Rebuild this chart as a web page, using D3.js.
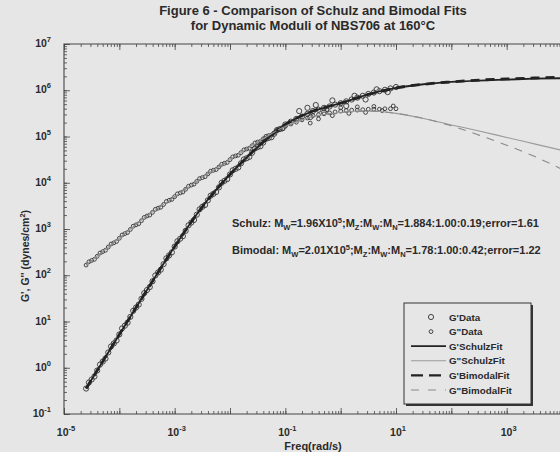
<!DOCTYPE html>
<html>
<head>
<meta charset="utf-8">
<script src="https://cdn.jsdelivr.net/npm/d3@7"></script>
<style>
  body { margin: 0; background: #e6e6e6; }
  svg { display: block; font-family: "Liberation Sans", Arial, sans-serif; font-weight: bold; }
</style>
</head>
<body>
<script>
// measured data (freq in rad/s, moduli in dynes/cm2)
var freq = [2.51e-5, 3.16e-5, 3.98e-5, 5.01e-5, 6.31e-5, 7.94e-5,
  1.00e-4, 1.26e-4, 1.58e-4, 2.00e-4, 2.51e-4, 3.16e-4, 3.98e-4, 5.01e-4, 6.31e-4, 7.94e-4,
  1.00e-3, 1.26e-3, 1.58e-3, 2.00e-3, 2.51e-3, 3.16e-3, 3.98e-3, 5.01e-3, 6.31e-3, 7.94e-3,
  0.0100, 0.0126, 0.0158, 0.0200, 0.0251, 0.0316, 0.0398, 0.0501, 0.0631, 0.0794,
  0.100, 0.126, 0.158, 0.200, 0.251, 0.316, 0.398, 0.501, 0.631, 0.794,
  1.00, 1.26, 1.58, 2.00, 2.51, 3.16, 3.98, 5.01, 6.31, 7.94, 10.0];

var gpData = [0.355, 0.556, 0.871, 1.36, 2.14, 3.35,
  5.25, 8.13, 12.6, 20.0, 30.9, 47.9, 74.1, 115, 174, 269,
  417, 617, 912, 1380, 2040, 3020, 4170, 5750, 7940, 11000,
  15100, 20000, 26300, 33900, 44700, 58900, 74100, 93300, 115000, 145000,
  182000, 209000, 240000, 269000, 309000, 355000, 380000, 417000, 447000, 490000,
  525000, 575000, 631000, 692000, 759000, 832000, 891000, 955000, 1023000, 1096000, 1175000];

var gppData = [166, 209, 257, 324, 407, 501,
  631, 794, 977, 1230, 1510, 1910, 2290, 2820, 3390, 4170,
  5010, 6030, 7240, 8910, 10700, 12900, 15500, 18600, 21900, 26300,
  31600, 38000, 44700, 53700, 63100, 75900, 89100, 105000, 120000, 141000,
  166000, 186000, 204000, 229000, 251000, 282000, 295000, 309000, 324000, 339000,
  355000, 363000, 372000, 372000, 380000, 389000, 389000, 389000, 398000, 398000, 398000];

// second run, measured in between
var freqMid = [2.82e-5, 3.55e-5, 4.47e-5, 5.62e-5, 7.08e-5, 8.91e-5,
  1.12e-4, 1.41e-4, 1.78e-4, 2.24e-4, 2.82e-4, 3.55e-4, 4.47e-4, 5.62e-4, 7.08e-4, 8.91e-4,
  1.12e-3, 1.41e-3, 1.78e-3, 2.24e-3, 2.82e-3, 3.55e-3, 4.47e-3, 5.62e-3, 7.08e-3, 8.91e-3,
  0.0112, 0.0141, 0.0178, 0.0224, 0.0282, 0.0355, 0.0447, 0.0562, 0.0708, 0.0891];
var gpMid = [0.479, 0.646, 1.17, 1.58, 2.88, 3.89, 7.08, 9.44, 17.0, 23.2, 41.2, 55.6, 98.9, 132, 232, 313,
  543, 700, 1200, 1570, 2660, 3310, 5250, 6310, 10000, 12000, 18600, 21400, 32000, 36300,
  55000, 61700, 89100, 96600, 138000, 151000];
var gppMid = [195, 221, 302, 347, 473, 537, 741, 841, 1150, 1300, 1780, 2000, 2660, 2950, 3940, 4370,
  5750, 6310, 8410, 9330, 12300, 13500, 17800, 19300, 25100, 27500, 36300, 39400, 51300, 55600,
  72400, 78500, 101000, 107000, 136000, 146000];

// scattered repeat points near the plateau
var gpExtraFreq = [0.178, 0.251, 0.282, 0.355, 0.501, 0.708, 1.26, 1.78, 2.82, 4.47, 7.08];
var gpExtra = [355000, 417000, 263000, 479000, 331000, 603000, 457000, 759000, 631000, 1047000, 912000];
var gppExtraFreq = [0.282, 0.398, 0.562, 0.708, 1.00, 1.41, 2.00, 2.82, 3.98, 5.62, 8.91];
var gppExtra = [195000, 240000, 380000, 282000, 417000, 316000, 437000, 331000, 447000, 363000, 457000];

// model fits
var fitFreq = [2.51e-5, 1e-4, 3.16e-4, 1e-3, 3.16e-3, 0.01, 0.0316, 0.1, 0.316, 1, 3.16, 10, 31.6, 100, 316, 1000, 3160, 10000];
var gpSchulz = [0.355, 5.25, 47.9, 417, 3020, 15100, 58900, 182000, 355000, 525000, 813000, 1122000, 1349000, 1514000, 1622000, 1698000, 1778000, 1820000];
var gppSchulz = [166, 631, 1910, 5010, 12900, 31600, 75900, 166000, 269000, 331000, 355000, 316000, 245000, 178000, 132000, 95500, 69200, 50100];
var gpBimodal = [0.355, 5.25, 47.9, 417, 3020, 15100, 58900, 182000, 355000, 525000, 813000, 1122000, 1349000, 1514000, 1660000, 1758000, 1841000, 1905000];
var gppBimodal = [166, 631, 1910, 5010, 12900, 31600, 75900, 166000, 269000, 331000, 355000, 316000, 245000, 170000, 107000, 64600, 37200, 19500];

var xTickExp = [-5, -3, -1, 1, 3];
var yTickExp = [-1, 0, 1, 2, 3, 4, 5, 6, 7];
var legendNames = ["G'Data", 'G"Data', "G'SchulzFit", 'G"SchulzFit', "G'BimodalFit", 'G"BimodalFit'];

var width = 560, height = 452;
var ink = "#2a2a2a", bg = "#e6e6e6";

var x = d3.scaleLog().domain([1e-5, 1e4]).range([64, 562]);
var y = d3.scaleLog().domain([1e-1, 1e7]).range([414, 44]);

var svg = d3.select("body").append("svg")
    .attr("width", width)
    .attr("height", height)
    .style("background", bg);

svg.append("defs").append("clipPath").attr("id", "plot")
  .append("rect").attr("x", 64).attr("y", 44).attr("width", 498).attr("height", 370);

// ticks (inward, matlab style)
var xMinor = x.ticks(), yMinor = y.ticks();
var isDecade = d => Math.abs(Math.log10(d) - Math.round(Math.log10(d))) < 1e-9;
var xMajor = xMinor.filter(isDecade);
var yMajor = yMinor.filter(isDecade);

function tickAxis(axis, vals, size, tr) {
  var g = svg.append("g").attr("transform", tr)
    .call(axis.tickValues(vals).tickSize(size).tickFormat(""));
  g.select(".domain").remove();
  g.selectAll("line").attr("stroke", "#444").attr("stroke-width", 0.8);
}
tickAxis(d3.axisBottom(x), xMinor, -3, "translate(0,414)");
tickAxis(d3.axisBottom(x), xMajor, -6, "translate(0,414)");
tickAxis(d3.axisTop(x), xMinor, -3, "translate(0,44)");
tickAxis(d3.axisTop(x), xMajor, -6, "translate(0,44)");
tickAxis(d3.axisLeft(y), yMinor, -3, "translate(64,0)");
tickAxis(d3.axisLeft(y), yMajor, -6, "translate(64,0)");

// frame
svg.append("path")
    .attr("d", "M562,44H64V414H562")
    .attr("fill", "none")
    .attr("stroke", "#444")
    .attr("stroke-width", 1.1);

// tick labels
var xl = svg.append("g").selectAll("text").data(xTickExp).enter().append("text")
    .attr("x", d => x(Math.pow(10, d)) + 2)
    .attr("y", 436)
    .attr("text-anchor", "middle")
    .attr("font-size", 10.5)
    .attr("fill", ink);
xl.append("tspan").text("10");
xl.append("tspan").attr("dy", -5).attr("font-size", 7.5).text(d => d);

var yl = svg.append("g").selectAll("text").data(yTickExp).enter().append("text")
    .attr("x", 51)
    .attr("y", d => y(Math.pow(10, d)) + 3)
    .attr("text-anchor", "end")
    .attr("font-size", 10.5)
    .attr("fill", ink);
yl.append("tspan").text("10");
yl.append("tspan").attr("dy", -5).attr("font-size", 7.5).text(d => d);

// titles
svg.append("text").attr("x", 313).attr("y", 15).attr("text-anchor", "middle")
    .attr("font-size", 13).attr("fill", ink)
    .text("Figure 6 - Comparison of Schulz and Bimodal Fits");
svg.append("text").attr("x", 313).attr("y", 30).attr("text-anchor", "middle")
    .attr("font-size", 13).attr("fill", ink)
    .text("for Dynamic Moduli of NBS706 at 160°C");
svg.append("text").attr("x", 313).attr("y", 450).attr("text-anchor", "middle")
    .attr("font-size", 11).attr("fill", ink)
    .text("Freq(rad/s)");
var ylab = svg.append("text")
    .attr("transform", "translate(29,256) rotate(-90)")
    .attr("text-anchor", "middle")
    .attr("font-size", 10.5)
    .attr("fill", ink);
ylab.append("tspan").text("G', G'' (dynes/cm");
ylab.append("tspan").attr("dy", -4).attr("font-size", 7.5).text("2");
ylab.append("tspan").attr("dy", 4).text(")");

// data markers
var plot = svg.append("g").attr("clip-path", "url(#plot)");

var gpPts = freq.map((f, i) => [f, gpData[i]])
    .concat(freqMid.map((f, i) => [f, gpMid[i]]))
    .concat(gpExtraFreq.map((f, i) => [f, gpExtra[i]]));
var gppPts = freq.map((f, i) => [f, gppData[i]])
    .concat(freqMid.map((f, i) => [f, gppMid[i]]))
    .concat(gppExtraFreq.map((f, i) => [f, gppExtra[i]]));

plot.selectAll(".gp").data(gpPts).enter().append("circle")
    .attr("cx", d => x(d[0])).attr("cy", d => y(d[1])).attr("r", 2.6)
    .attr("fill", "none").attr("stroke", "#333").attr("stroke-width", 0.9);
plot.selectAll(".gpp").data(gppPts).enter().append("circle")
    .attr("cx", d => x(d[0])).attr("cy", d => y(d[1])).attr("r", 1.9)
    .attr("fill", "none").attr("stroke", "#333").attr("stroke-width", 0.9);

// fit lines
var line = d3.line().x(d => x(d[0])).y(d => y(d[1])).curve(d3.curveMonotoneX);
var fits = [
  {v: gpSchulz, color: "#222", w: 1.8, dash: null, key: null},
  {v: gppSchulz, color: "#9a9a9a", w: 1.1, dash: null, key: null},
  {v: gpBimodal, color: "#222", w: 2.8, dash: "9,6", key: "12,6"},
  {v: gppBimodal, color: "#8a8a8a", w: 1.1, dash: "8,7", key: "8,9"}
];
fits.forEach(function(f) {
  plot.append("path")
      .datum(fitFreq.map((q, i) => [q, f.v[i]]))
      .attr("d", line)
      .attr("fill", "none")
      .attr("stroke", f.color)
      .attr("stroke-width", f.w)
      .attr("stroke-dasharray", f.dash);
});

// annotations
function note(yy, parts) {
  var t = svg.append("text").attr("x", 232).attr("y", yy).attr("font-size", 11).attr("fill", ink);
  parts.forEach(function(p) {
    var s = t.append("tspan").text(p[0]);
    if (p[1] === "sub") s.attr("font-size", 7.5).attr("dy", 3);
    if (p[1] === "sup") s.attr("font-size", 7.5).attr("dy", -4);
    if (p[1] === "back") s.attr("dy", p[2]);
  });
}
function parts(name, mw, ratio, err) {
  return [[name + ": M"], ["W", "sub"], ["=" + mw + "X10", "back", -3], ["5", "sup"],
    [";M", "back", 4], ["Z", "sub"], [":M", "back", -3], ["W", "sub"], [":M", "back", -3], ["N", "sub"],
    ["=" + ratio + ";error=" + err, "back", -3]];
}
note(227, parts("Schulz", "1.96", "1.884:1.00:0.19", "1.61"));
note(254, parts("Bimodal", "2.01", "1.78:1.00:0.42", "1.22"));

// legend
var lg = svg.append("g");
lg.append("rect").attr("x", 406).attr("y", 305).attr("width", 127).attr("height", 101).attr("fill", "#333");
lg.append("rect").attr("x", 404).attr("y", 303).attr("width", 127).attr("height", 101)
    .attr("fill", bg).attr("stroke", "#333").attr("stroke-width", 1);

var rows = lg.selectAll(".row").data(legendNames).enter().append("g")
    .attr("transform", (d, i) => "translate(0," + (317 + i * 14.6) + ")");
rows.append("text").attr("x", 449).attr("y", 3.5).attr("font-size", 9.8).attr("fill", ink).text(d => d);
rows.filter((d, i) => i < 2).append("circle")
    .attr("cx", 431).attr("cy", 0).attr("r", (d, i) => i === 0 ? 2.6 : 1.9)
    .attr("fill", "none").attr("stroke", "#333").attr("stroke-width", 0.9);
rows.filter((d, i) => i >= 2).append("line")
    .attr("x1", 411).attr("x2", 446).attr("y1", 0).attr("y2", 0)
    .attr("stroke", (d, i) => fits[i].color)
    .attr("stroke-width", (d, i) => Math.min(fits[i].w, 2.2))
    .attr("stroke-dasharray", (d, i) => fits[i].key);
</script>
</body>
</html>
